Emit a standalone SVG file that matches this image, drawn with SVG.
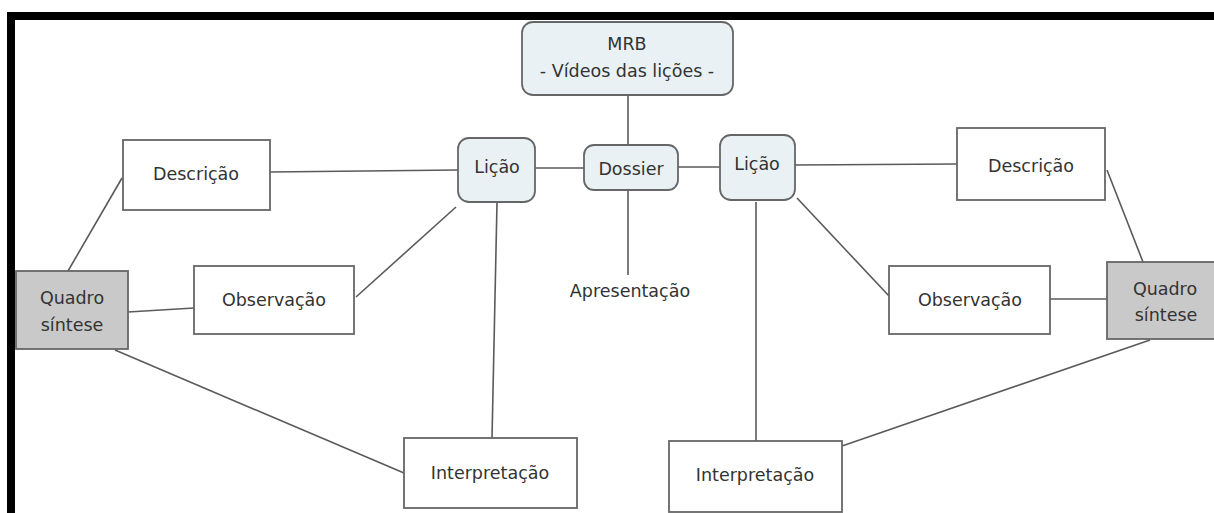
<svg xmlns="http://www.w3.org/2000/svg" width="1214" height="513" viewBox="0 0 1214 513">
<style>
.bg{fill:#ffffff}
.frame{fill:#000000}
.box{fill:#ffffff;stroke:#666666;stroke-width:1.8}
.rbox{fill:#e9f1f4;stroke:#666666;stroke-width:1.8}
.gbox{fill:#c9c9c9;stroke:#666666;stroke-width:1.8}
.lbl{font-family:"DejaVu Sans",Verdana,sans-serif;font-size:17.5px;fill:#333333;text-anchor:middle}
#connectors line{stroke:#5a5a5a;stroke-width:1.6}
</style>
<rect class="bg" x="0" y="0" width="1214" height="513"/>
<rect class="frame" x="7" y="12" width="1207" height="8"/>
<rect class="frame" x="7" y="12" width="8" height="501"/>
<g id="connectors">
<line x1="628" y1="95" x2="628" y2="145"/>
<line x1="628" y1="190" x2="628" y2="275"/>
<line x1="535" y1="168" x2="584" y2="168"/>
<line x1="678" y1="167" x2="720" y2="167"/>
<line x1="270" y1="172" x2="458" y2="170"/>
<line x1="795" y1="165" x2="957" y2="164"/>
<line x1="122" y1="178" x2="68" y2="271"/>
<line x1="128" y1="312" x2="194" y2="308"/>
<line x1="356" y1="297" x2="456" y2="207"/>
<line x1="497" y1="203" x2="492" y2="438"/>
<line x1="115" y1="350" x2="404" y2="473"/>
<line x1="1107" y1="170" x2="1143" y2="262"/>
<line x1="1050" y1="299" x2="1107" y2="299"/>
<line x1="797" y1="198" x2="889" y2="296"/>
<line x1="756" y1="202" x2="756" y2="441"/>
<line x1="842" y1="446" x2="1150" y2="340"/>
</g>
<g id="mrb">
<rect class="rbox" x="522" y="22" width="211" height="73" rx="11"/>
<text class="lbl" x="627" y="50">MRB</text>
<text class="lbl" x="627" y="77">- Vídeos das lições -</text>
</g>
<g id="licao-left">
<rect class="rbox" x="458" y="138" width="77" height="64" rx="11"/>
<text class="lbl" x="497" y="173">Lição</text>
</g>
<g id="dossier">
<rect class="rbox" x="584" y="145" width="94" height="45" rx="10"/>
<text class="lbl" x="631" y="175">Dossier</text>
</g>
<g id="licao-right">
<rect class="rbox" x="720" y="135" width="75" height="65" rx="11"/>
<text class="lbl" x="757" y="170">Lição</text>
</g>
<g id="apresentacao">
<text class="lbl" x="630" y="297">Apresentação</text>
</g>
<g id="descricao-left">
<rect class="box" x="123" y="140" width="147" height="70"/>
<text class="lbl" x="196" y="180">Descrição</text>
</g>
<g id="observacao-left">
<rect class="box" x="194" y="266" width="160" height="68"/>
<text class="lbl" x="274" y="306">Observação</text>
</g>
<g id="quadro-left">
<rect class="gbox" x="16" y="271" width="112" height="78"/>
<text class="lbl" x="72" y="304">Quadro</text>
<text class="lbl" x="72" y="331">síntese</text>
</g>
<g id="interpretacao-left">
<rect class="box" x="404" y="438" width="173" height="70"/>
<text class="lbl" x="490" y="479">Interpretação</text>
</g>
<g id="descricao-right">
<rect class="box" x="957" y="128" width="148" height="72"/>
<text class="lbl" x="1031" y="172">Descrição</text>
</g>
<g id="observacao-right">
<rect class="box" x="889" y="266" width="161" height="68"/>
<text class="lbl" x="970" y="306">Observação</text>
</g>
<g id="quadro-right">
<rect class="gbox" x="1107" y="262" width="118" height="77"/>
<text class="lbl" x="1165" y="295">Quadro</text>
<text class="lbl" x="1166" y="321">síntese</text>
</g>
<g id="interpretacao-right">
<rect class="box" x="669" y="441" width="173" height="71"/>
<text class="lbl" x="755" y="481">Interpretação</text>
</g>
</svg>
